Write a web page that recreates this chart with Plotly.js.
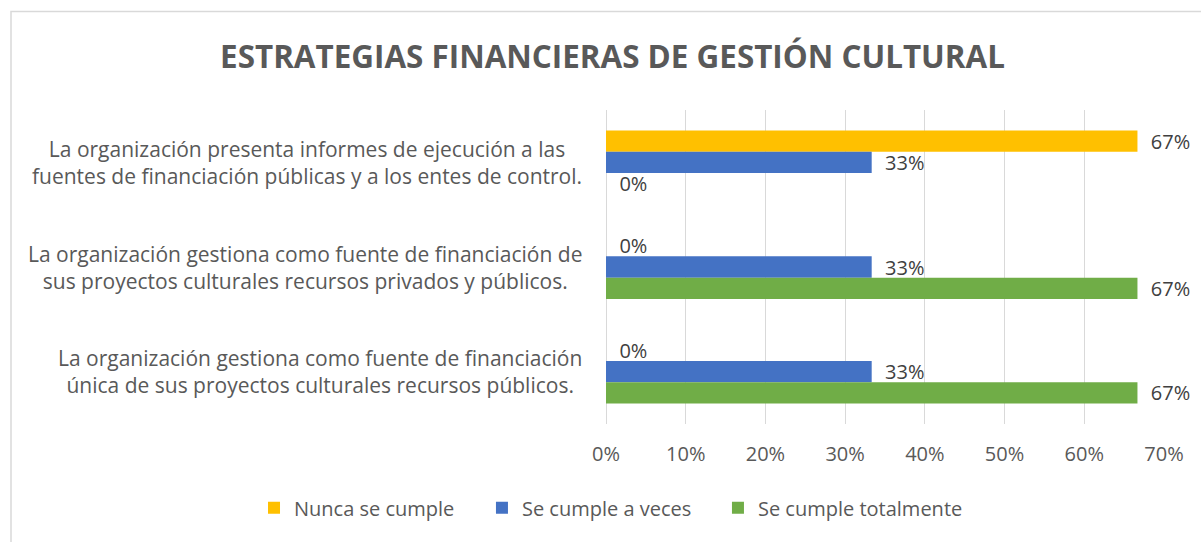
<!DOCTYPE html>
<html>
<head>
<meta charset="utf-8">
<script src="https://cdn.plot.ly/plotly-3.0.1.min.js"></script>
<style>html,body{margin:0;padding:0;background:#fff;}#chart{width:1201px;height:542px;}</style>
</head>
<body>
<div id="chart"></div>
<script>
var categories = [
  "La organización presenta informes de ejecución a las<br>fuentes de financiación públicas y a los entes de control.",
  "La organización gestiona como fuente de financiación de<br>sus proyectos culturales recursos privados y públicos.",
  "La organización gestiona como fuente de financiación<br>única de sus proyectos culturales recursos públicos."
];
var seriesNames = ["Nunca se cumple", "Se cumple a veces", "Se cumple totalmente"];
var nunca = [0.6667, 0, 0];
var aVeces = [0.3333, 0.3333, 0.3333];
var totalmente = [0, 0.6667, 0.6667];
var colors = ["#FFC000", "#4472C4", "#70AD47"];
var tickVals = [0, 0.1, 0.2, 0.3, 0.4, 0.5, 0.6, 0.7];
var tickText = ["0%", "10%", "20%", "30%", "40%", "50%", "60%", "70%"];
var titleText = "ESTRATEGIAS FINANCIERAS DE GESTIÓN CULTURAL";

var FONT = "Open Sans, Noto Sans, sans-serif";
var values = [nunca, aVeces, totalmente];
var legendIds = ["legend", "legend2", "legend3"];
var legendX = [0.2115, 0.4013, 0.5978];

var traces = values.map(function (v, i) {
  return {
    type: "bar",
    orientation: "h",
    name: seriesNames[i],
    legend: legendIds[i],
    x: v,
    y: categories,
    marker: {color: colors[i], line: {width: 0}},
    texttemplate: "\u00a0\u00a0%{x:.0%}",
    textposition: "outside",
    constraintext: "none",
    cliponaxis: false,
    textfont: {family: FONT, size: 20, color: "#404040"}
  };
});

var annotations = categories.map(function (c) {
  return {
    xref: "paper", yref: "y", x: 0, y: c,
    xanchor: "right", yanchor: "middle", xshift: -22,
    text: c, showarrow: false, align: "center",
    font: {family: FONT, size: 21, color: "#595959"}
  };
});

var layout = {
  width: 1201, height: 542,
  margin: {l: 606, r: 37, t: 110, b: 118, autoexpand: false},
  paper_bgcolor: "#ffffff", plot_bgcolor: "#ffffff",
  font: {family: FONT, color: "#595959"},
  title: {
    text: "<b>" + titleText + "</b>",
    font: {family: FONT, size: 31.4, color: "#595959"},
    xref: "container", yref: "container",
    x: 0.51, y: 0.895, xanchor: "center", yanchor: "middle"
  },
  barmode: "group", bargap: 0.39, bargroupgap: 0,
  xaxis: {
    range: [0, 0.7], tickvals: tickVals, ticktext: tickText,
    showgrid: true, gridcolor: "#d9d9d9", gridwidth: 1,
    zeroline: true, zerolinecolor: "#d9d9d9", zerolinewidth: 1,
    showline: false, ticks: "", ticklabelstandoff: 16,
    tickfont: {family: FONT, size: 20, color: "#595959"}
  },
  yaxis: {
    autorange: "reversed", showticklabels: false, showgrid: false,
    zeroline: false, showline: false, ticks: ""
  },
  annotations: annotations,
  shapes: [{
    type: "rect", xref: "paper", yref: "paper",
    x0: (11 - 606) / 558, x1: (1215 - 606) / 558,
    y0: (424 - 560) / 314, y1: (424 - 11.5) / 314,
    line: {color: "#d9d9d9", width: 1.5}, fillcolor: "rgba(0,0,0,0)", layer: "below"
  }],
  showlegend: true
};

legendIds.forEach(function (id, i) {
  layout[id] = {
    orientation: "h", xref: "container", yref: "container",
    x: legendX[i], xanchor: "left", y: 0.063, yanchor: "middle",
    bgcolor: "rgba(0,0,0,0)",
    font: {family: FONT, size: 20, color: "#595959"}
  };
});

Plotly.newPlot("chart", traces, layout, {displayModeBar: false});
</script>
</body>
</html>
